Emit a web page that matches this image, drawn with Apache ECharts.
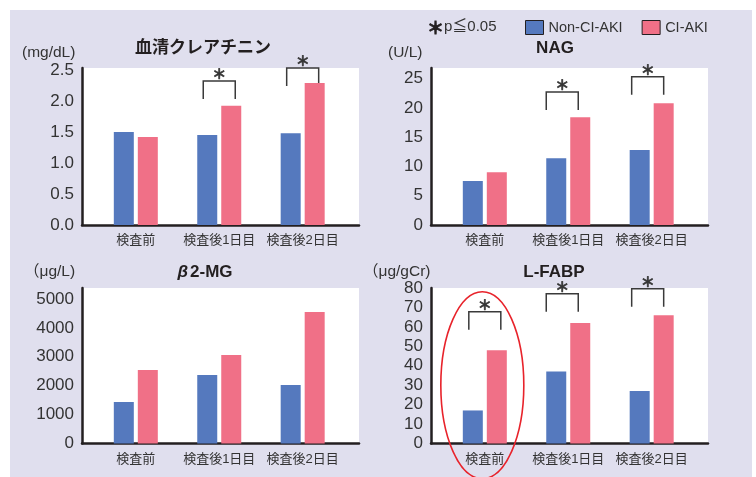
<!DOCTYPE html>
<html>
<head>
<meta charset="utf-8">
<script src="https://cdn.jsdelivr.net/npm/echarts@6/dist/echarts.min.js"></script>
<style>
  html, body { margin: 0; padding: 0; background: #ffffff; }
  #wrap { position: relative; width: 756px; height: 477px; background: #ffffff; overflow: hidden; }
  #panel { position: absolute; left: 10px; top: 10px; width: 742px; height: 467px; background: #e0dfee; }
  #chart { position: absolute; left: 0; top: 0; width: 756px; height: 477px; }
</style>
</head>
<body>
<div id="wrap">
  <div id="panel"></div>
  <div id="chart"></div>
</div>
<script>
// Time points
const categories = ['検査前', '検査後1日目', '検査後2日目'];
const seriesNames = ['Non-CI-AKI', 'CI-AKI'];

// Serum creatinine (mg/dL)
const creNon = [1.50, 1.45, 1.48];
const creCI  = [1.42, 1.92, 2.29];
const creTicks = [0, 0.5, 1.0, 1.5, 2.0, 2.5];

// NAG (U/L)
const nagNon = [7.5, 11.4, 12.8];
const nagCI  = [9.0, 18.4, 20.8];
const nagTicks = [0, 5, 10, 15, 20, 25];

// beta2-MG (ug/L)
const b2Non = [1440, 2370, 2020];
const b2CI  = [2540, 3060, 4550];
const b2Ticks = [0, 1000, 2000, 3000, 4000, 5000];

// L-FABP (ug/gCr)
const fabpNon = [17, 37, 27];
const fabpCI  = [48, 62, 66];
const fabpTicks = [0, 10, 20, 30, 40, 50, 60, 70, 80];

// Significance brackets: [category index, bracket level in axis units]
const creSig  = [[1, 2.32], [2, 2.53]];
const nagSig  = [[1, 22.7], [2, 25.3]];
const b2Sig   = [];
const fabpSig = [[0, 67.8], [1, 77.1], [2, 79.6]];

const BLUE = '#5579be';
const PINK = '#f07087';
const AXIS = '#231f20';
const TEXT = '#333333';
const FONT = "'Liberation Sans', 'Noto Sans CJK JP', sans-serif";

// Panel layout: plot rectangles and value ranges
const panels = [
  { left: 82,  top: 68,  height: 157,   max: 2.53, ticks: creTicks,  fmt: v => v.toFixed(1), non: creNon,  ci: creCI,  sig: creSig,  shift: [0, 0, 0] },
  { left: 431, top: 68,  height: 157,   max: 26.8, ticks: nagTicks,  fmt: v => String(v),   non: nagNon,  ci: nagCI,  sig: nagSig,  shift: [0, -6, -4] },
  { left: 82,  top: 288, height: 155.5, max: 5380, ticks: b2Ticks,   fmt: v => String(v),   non: b2Non,   ci: b2CI,   sig: b2Sig,   shift: [0, 0, 0] },
  { left: 431, top: 288, height: 155.5, max: 80,   ticks: fabpTicks, fmt: v => String(v),   non: fabpNon, ci: fabpCI, sig: fabpSig, shift: [0, -6, -4] }
];

const grid = [], xAxis = [], yAxis = [], series = [];

panels.forEach((p, i) => {
  grid.push({
    left: p.left, top: p.top, width: 277, height: p.height,
    show: true, backgroundColor: '#ffffff', borderWidth: 0
  });
  xAxis.push({
    type: 'value', gridIndex: i, min: -0.645, max: 2.675,
    axisLine: { show: true, onZero: false, lineStyle: { color: AXIS, width: 2.5 } },
    axisTick: { show: false },
    splitLine: { show: false },
    axisLabel: {
      customValues: [0, 1, 2],
      formatter: v => categories[Math.round(v)],
      margin: 9, fontSize: 13, color: TEXT, fontFamily: FONT
    }
  });
  yAxis.push({
    type: 'value', gridIndex: i, min: 0, max: p.max,
    axisLine: { show: true, onZero: false, lineStyle: { color: AXIS, width: 2.5 } },
    axisTick: { show: false },
    splitLine: { show: false },
    axisLabel: {
      customValues: p.ticks,
      formatter: p.fmt,
      margin: 8, fontSize: 17, color: TEXT, fontFamily: FONT,
      padding: [3, 0, 0, 0]
    }
  });
  series.push({
    name: seriesNames[0], type: 'bar', xAxisIndex: i, yAxisIndex: i,
    barWidth: 20, barGap: '20%',
    itemStyle: { color: BLUE },
    data: p.non.map((v, k) => [k, v])
  });
  series.push({
    name: seriesNames[1], type: 'bar', xAxisIndex: i, yAxisIndex: i,
    barWidth: 20, barGap: '20%',
    itemStyle: { color: PINK },
    data: p.ci.map((v, k) => [k, v])
  });
  if (p.sig.length) {
    series.push({
      type: 'custom', xAxisIndex: i, yAxisIndex: i, clip: false, silent: true,
      data: p.sig,
      renderItem: (params, api) => {
        const cat = api.value(0);
        const pt = api.coord([cat, api.value(1)]);
        const cx = pt[0] + p.shift[cat];
        const y = pt[1];
        const half = 16, leg = 18;
        return {
          type: 'group',
          children: [
            {
              type: 'polyline',
              shape: { points: [[cx - half, y + leg], [cx - half, y], [cx + half, y], [cx + half, y + leg]] },
              style: { stroke: '#3a3a3a', lineWidth: 1.5, fill: null }
            },
            {
              type: 'text',
              x: cx, y: y - 7,
              style: {
                text: '＊', fill: '#333333', stroke: '#333333', lineWidth: 0.6,
                align: 'center', verticalAlign: 'middle',
                font: "bold 14px 'Noto Sans CJK JP', sans-serif"
              }
            }
          ]
        };
      }
    });
  }
});

const titleStyle = "bold 17px 'Liberation Sans', 'Noto Sans CJK JP', sans-serif";
const unitStyle = "15.5px 'Liberation Sans', 'Noto Sans CJK JP', sans-serif";

const graphic = [
  { type: 'text', x: 203, y: 48, style: { text: '血清クレアチニン', font: titleStyle, fill: '#231f20', align: 'center', verticalAlign: 'middle' } },
  { type: 'text', x: 555, y: 48, style: { text: 'NAG', font: titleStyle, fill: '#231f20', align: 'center', verticalAlign: 'middle' } },
  { type: 'text', x: 205, y: 272, style: {
      text: '{b|β}2-MG', font: titleStyle, fill: '#231f20', align: 'center', verticalAlign: 'middle',
      rich: { b: { fontStyle: 'italic', fontWeight: 'bold', fontSize: 17, fontFamily: FONT, fill: '#231f20', padding: [0, 2, 0, 0] } }
  } },
  { type: 'text', x: 554, y: 272, style: { text: 'L-FABP', font: titleStyle, fill: '#231f20', align: 'center', verticalAlign: 'middle' } },
  { type: 'text', x: 22, y: 53, style: { text: '(mg/dL)', font: unitStyle, fill: TEXT, align: 'left', verticalAlign: 'middle' } },
  { type: 'text', x: 388, y: 53, style: { text: '(U/L)', font: unitStyle, fill: TEXT, align: 'left', verticalAlign: 'middle' } },
  { type: 'text', x: 24, y: 272, style: { text: '（μg/L)', font: unitStyle, fill: TEXT, align: 'left', verticalAlign: 'middle' } },
  { type: 'text', x: 363, y: 272, style: { text: '（μg/gCr)', font: unitStyle, fill: TEXT, align: 'left', verticalAlign: 'middle' } },
  { type: 'text', x: 427, y: 28, style: { text: '＊', font: "bold 17px 'Noto Sans CJK JP', sans-serif", fill: '#231f20', stroke: '#231f20', lineWidth: 0.8, align: 'left', verticalAlign: 'middle' } },
  { type: 'text', x: 444, y: 27, style: { text: 'p≦0.05', font: "15px 'Liberation Sans', 'Noto Sans CJK JP', sans-serif", fill: TEXT, align: 'left', verticalAlign: 'middle' } }
];

const chart = echarts.init(document.getElementById('chart'), null, { renderer: 'canvas' });
chart.setOption({
  animation: false,
  textStyle: { fontFamily: FONT },
  grid, xAxis, yAxis, series, graphic,
  legend: {
    data: seriesNames,
    left: 525, top: 20, padding: 0,
    icon: 'rect', itemWidth: 18, itemHeight: 14, itemGap: 19,
    itemStyle: { borderColor: '#231f20', borderWidth: 1 },
    textStyle: { fontSize: 14.5, color: TEXT, fontFamily: FONT },
    selectedMode: false
  }
});

// Red ring around the L-FABP baseline pair, placed through the axis scale
const ringCenter = chart.convertToPixel({ xAxisIndex: 3, yAxisIndex: 3 }, [0, 30]);
chart.setOption({
  graphic: graphic.concat([{
    type: 'ellipse', silent: true,
    shape: { cx: ringCenter[0] - 2.5, cy: ringCenter[1], rx: 41.5, ry: 93.5 },
    style: { stroke: '#e8232b', lineWidth: 1.6, fill: null },
    z: 10
  }])
});
</script>
</body>
</html>
